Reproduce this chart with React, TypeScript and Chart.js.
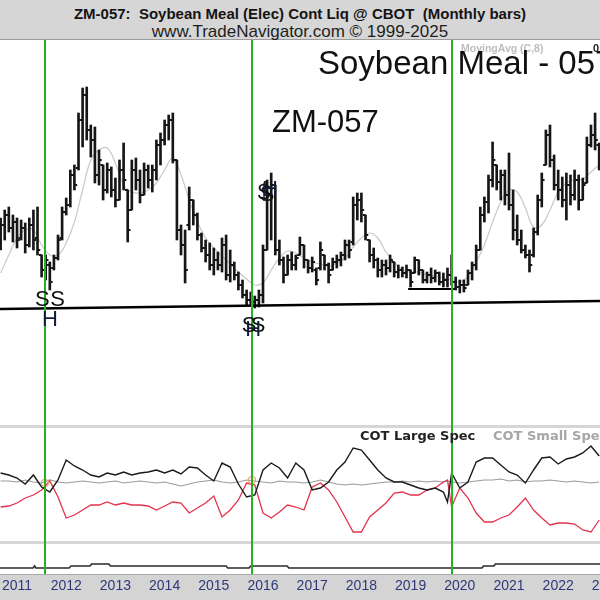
import React, { useEffect, useRef } from "react";
import { Chart, registerables } from "chart.js";

Chart.register(...registerables);

const FONT = '"Liberation Sans", Arial, sans-serif';
const GREEN = "#22b422";
const BAR = "#161616";

// Month index: 0 = January 2011; the first monthly bar is September 2010.
const firstBarMonth = -4;
const xMin = -4.15;
const xMax = 142.2;

const highs = [
  382, 390, 393, 385, 382, 380, 377, 382, 390, 393,
  345, 345, 338, 345, 365, 393, 402, 430, 435, 487,
  512, 513, 475, 473, 450, 435, 437, 433, 422, 440,
  457, 410, 440, 442, 430, 437, 435, 435, 460, 467,
  480, 485, 487, 440, 375, 370, 413, 400, 387, 367,
  360, 357, 352, 348, 362, 365, 350, 338, 328, 320,
  310, 308, 304, 310, 355, 420, 427, 415, 360, 343,
  345, 348, 345, 363, 355, 340, 343, 332, 358, 345,
  337, 342, 345, 348, 360, 360, 403, 407, 407, 385,
  360, 352, 342, 340, 340, 345, 338, 335, 333, 335,
  330, 343, 340, 330, 328, 332, 330, 328, 327, 332,
  345, 323, 320, 320, 330, 338, 355, 393, 403, 425,
  458, 435, 430, 430, 447, 410, 385, 370, 355, 350,
  372, 405, 427, 470, 475, 445, 430, 423, 427, 425,
  430, 425, 422, 463, 475, 487, 457,
];
const lows = [
  350, 360, 368, 358, 352, 360, 347, 353, 350, 345,
  323, 320, 310, 330, 340, 360, 385, 393, 410, 430,
  453, 460, 443, 417, 415, 400, 407, 403, 393, 400,
  410, 358, 390, 410, 397, 405, 412, 408, 420, 435,
  455, 460, 437, 360, 345, 317, 370, 375, 360, 348,
  338, 330, 325, 330, 328, 320, 318, 320, 310, 302,
  295, 295, 292, 293, 297, 350, 360, 345, 335, 317,
  325, 330, 330, 345, 332, 327, 328, 315, 330, 330,
  317, 330, 332, 334, 340, 342, 355, 380, 378, 360,
  338, 332, 323, 323, 325, 328, 323, 322, 323, 322,
  313, 327, 325, 317, 317, 317, 318, 315, 313, 313,
  315, 310, 307, 308, 315, 320, 330, 350, 378, 387,
  413, 410, 400, 395, 390, 360, 355, 347, 342, 328,
  343, 365, 393, 435, 433, 410, 400, 393, 380, 395,
  400, 390, 400, 417, 453, 450, 430,
];
const opens = [
  360, 375, 385, 372, 378, 362, 372, 355, 375, 362,
  345, 330, 335, 332, 342, 362, 388, 395, 425, 432,
  480, 505, 470, 460, 425, 435, 410, 430, 410, 400,
  430, 410, 390, 430, 420, 405, 430, 420, 430, 455,
  460, 475, 480, 440, 370, 355, 375, 400, 385, 365,
  352, 345, 335, 340, 335, 355, 325, 335, 325, 315,
  305, 300, 298, 300, 305, 350, 405, 415, 350, 340,
  325, 340, 335, 345, 355, 340, 332, 330, 332, 345,
  335, 330, 338, 340, 345, 355, 358, 395, 400, 385,
  360, 345, 340, 330, 335, 332, 338, 328, 330, 327,
  330, 327, 340, 330, 320, 325, 322, 327, 318, 320,
  325, 318, 313, 315, 315, 327, 335, 350, 385, 398,
  420, 435, 418, 425, 405, 395, 370, 360, 350, 345,
  345, 368, 400, 435, 465, 440, 415, 410, 400, 415,
  405, 420, 400, 417, 455, 465, 455,
];
const closes = [
  375, 385, 372, 378, 360, 372, 355, 375, 360, 350,
  330, 340, 318, 342, 360, 388, 395, 425, 415, 480,
  505, 470, 460, 425, 440, 410, 430, 410, 400, 430,
  420, 370, 430, 420, 405, 430, 420, 430, 455, 460,
  475, 480, 440, 370, 355, 330, 400, 385, 365, 352,
  345, 335, 340, 335, 355, 325, 335, 325, 315, 305,
  300, 298, 300, 305, 350, 405, 415, 350, 340, 325,
  340, 335, 342, 355, 340, 332, 338, 320, 350, 335,
  325, 338, 340, 345, 355, 350, 395, 400, 390, 365,
  345, 340, 330, 335, 332, 340, 328, 330, 327, 330,
  318, 340, 330, 320, 325, 322, 327, 318, 320, 325,
  318, 313, 315, 312, 327, 335, 350, 385, 398, 420,
  440, 418, 425, 405, 395, 370, 360, 350, 345, 335,
  368, 400, 420, 465, 440, 415, 410, 400, 415, 405,
  420, 400, 415, 455, 465, 460, 440,
];

// MovingAvg (C,8)
const maMonths = [
  -4, -2, 0, 2, 4, 6, 8, 10, 12, 14, 16, 18, 20, 22, 24, 26, 28, 30, 32, 34,
  36, 38, 40, 42, 44, 46, 48, 50, 52, 54, 56, 58, 60, 62, 64, 66, 68, 70, 72, 74,
  76, 78, 80, 82, 84, 86, 88, 90, 92, 94, 96, 98, 100, 102, 104, 106, 108, 110,
  112, 114, 116, 118, 120, 122, 124, 126, 128, 130, 132, 134, 136, 138, 140, 142,
];
const maValues = [
  327, 345, 362, 370, 370, 355, 345, 345, 357, 378, 410, 440, 450, 452, 437, 415, 408, 407, 410, 417,
  430, 442, 425, 400, 378, 362, 352, 344, 336, 328, 321, 315, 317, 330, 342, 349, 347, 342, 338, 336,
  334, 337, 342, 353, 362, 367, 362, 348, 338, 330, 328, 328, 325, 324, 322, 320, 318, 324,
  338, 355, 378, 398, 410, 408, 392, 373, 375, 390, 408, 417, 420, 421, 428, 435,
];

const supportMonths = [-4.15, 142.2];
const supportValues = [291, 299];
const baseMonths = [95.4, 106.8];
const baseValues = [311, 311];

const signalMonths = [6.8, 57.3, 106.1];

const markerTexts = ["S", "S", "H", "S", "S", "H", "$", "S", "H"];
const markerMonths = [6.15, 9.9, 8.05, 56.6, 58.8, 57.6, 60.2, 61.0, 61.7];
const markerPrices = [300, 300, 280, 274, 274, 270, 407, 405, 410];

const yearLabels = ["2011", "2012", "2013", "2014", "2015", "2016", "2017", "2018", "2019", "2020", "2021", "2022", "2023"];
const yearMonths = [0, 12, 24, 36, 48, 60, 72, 84, 96, 108, 120, 132, 144];

// COT net positions (thousand contracts)
const cotMonths = [
  -4, -2, 0, 2, 4, 6, 8, 10, 12, 14, 16, 18, 20, 22, 24, 26, 28, 30, 32, 34,
  36, 38, 40, 42, 44, 46, 48, 50, 52, 54, 56, 58, 60, 62, 64, 66, 68, 70, 72, 74,
  76, 78, 80, 82, 84, 86, 88, 90, 92, 94, 96, 98, 100, 102, 104, 105, 106, 108, 110,
  112, 114, 116, 118, 120, 122, 124, 126, 128, 130, 132, 134, 136, 138, 140, 142,
];
const cotLarge = [
  9, 7, 4, -2, 7, -5, -10, 2, 22, 16, 12, 7, 5, 9, 7, 10, 7, 9, 10, 12,
  9, 12, 8, 15, 14, 7, 1, 19, 15, -2, -15, -13, 12, 19, 14, 4, 19, 12, -8, -6,
  0, 12, 20, 34, 32, 22, 12, 4, 0, 0, -3, -6, -8, -6, -10, -20, 9, -6, 0,
  20, 24, 24, 17, 10, 7, -1, 12, 24, 25, 18, 23, 25, 29, 36, 26,
];
const cotCommercial = [
  -25, -24, -21, -16, -13, -8, 1, -15, -36, -33, -28, -23, -23, -20, -23, -21, -23, -23, -24, -28,
  -24, -20, -21, -31, -26, -21, -14, -35, -28, -18, -1, -3, -31, -36, -30, -23, -25, -28, -5, -1,
  -8, -20, -35, -50, -50, -35, -28, -21, -11, -10, -13, -13, -8, -6, 0, 2, -25, -6, -16,
  -31, -40, -40, -36, -33, -25, -16, -28, -36, -43, -41, -41, -42, -48, -50, -38,
];
const cotSmall = [
  1, 1, 0, 2, 0, -1, 2, 0, -1, 0, 1, 0, -1, 0, 1, -1, 0, 1, 0, -1,
  0, -2, -4, -2, 0, 1, 2, 0, -1, 0, 2, 1, 0, -1, 1, 0, 0, -1, 0, 2,
  0, -2, -3, -2, -3, -2, -1, 0, 0, 1, 0, 1, 0, 1, 0, 1, 0, -1, 0,
  1, 2, 2, 3, 1, 2, 0, 1, 1, 2, 1, 0, 1, 0, -1, 0,
];
const cotSignalMonths = [6.8, 57.3];
const cotSignalValues = [-1, 2];

// lower study line
const lowerMonths = [-4.15, 3.9, 4.3, 4.6, 12.7, 13.2, 17.8, 18.2, 22.4, 22.8, 51, 51.4, 56.6, 57, 65.9, 66.3, 113.4, 113.8, 116.3, 116.7, 142.2];
const lowerValues = [200, 200, 210, 200, 200, 210, 210, 220, 220, 210, 210, 200, 200, 210, 210, 200, 200, 210, 210, 220, 220];

const pts = (xs: number[], ys: number[]) => xs.map((x, i) => ({ x, y: ys[i] }));

function greenLines(fullHeight: boolean) {
  return {
    id: "greenLines",
    afterDatasetsDraw(chart: any) {
      const { ctx, chartArea, scales } = chart;
      ctx.save();
      ctx.strokeStyle = GREEN;
      ctx.lineWidth = 2;
      for (const m of signalMonths) {
        const px = Math.round(scales.x.getPixelForValue(m));
        ctx.beginPath();
        ctx.moveTo(px, 0);
        ctx.lineTo(px, fullHeight ? chart.height : chartArea.bottom);
        ctx.stroke();
      }
      ctx.restore();
    },
  };
}

const markersPlugin = {
  id: "markers",
  afterDatasetsDraw(chart: any) {
    const { ctx, scales } = chart;
    ctx.save();
    ctx.font = `22px ${FONT}`;
    ctx.textAlign = "center";
    ctx.textBaseline = "middle";
    markerTexts.forEach((t, i) => {
      ctx.fillStyle = t === "H" ? "#101c38" : "#111111";
      ctx.fillText(t, scales.x.getPixelForValue(markerMonths[i]), scales.y.getPixelForValue(markerPrices[i]));
    });
    ctx.restore();
  },
};

const bandPlugin = {
  id: "bands",
  beforeDraw(chart: any) {
    const { ctx, chartArea } = chart;
    ctx.save();
    ctx.fillStyle = "#d6d6d6";
    ctx.fillRect(0, 0, chart.width, chart.height);
    ctx.fillStyle = "#ffffff";
    ctx.fillRect(0, chartArea.top, chart.width, chartArea.bottom - chartArea.top);
    ctx.restore();
  },
};

const axisBandPlugin = {
  id: "axisBand",
  beforeDraw(chart: any) {
    const { ctx, chartArea } = chart;
    ctx.save();
    ctx.fillStyle = "#ffffff";
    ctx.fillRect(0, 0, chart.width, chartArea.bottom);
    ctx.fillStyle = "#d4d4d4";
    ctx.fillRect(0, chartArea.bottom, chart.width, chart.height - chartArea.bottom);
    ctx.fillStyle = "#a9a9a9";
    ctx.fillRect(0, chartArea.bottom, chart.width, 1);
    ctx.restore();
  },
};

const baseOptions = (yMin: number, yMax: number, padding: any) => ({
  responsive: false,
  animation: false as const,
  events: [],
  layout: { padding, autoPadding: false },
  plugins: { legend: { display: false }, tooltip: { enabled: false } },
  scales: {
    x: { type: "linear" as const, min: xMin, max: xMax, display: false, offset: false },
    y: { type: "linear" as const, min: yMin, max: yMax, display: false },
  },
});

export default function App() {
  const mainRef = useRef<HTMLCanvasElement>(null);
  const cotRef = useRef<HTMLCanvasElement>(null);
  const lowRef = useRef<HTMLCanvasElement>(null);

  useEffect(() => {
    const months = highs.map((_, i) => firstBarMonth + i);
    const main = new Chart(mainRef.current as HTMLCanvasElement, {
      type: "bar",
      data: {
        datasets: [
          {
            type: "bar",
            data: months.map((m, i) => ({ x: m, y: [lows[i], highs[i]] })) as any,
            backgroundColor: BAR,
            borderWidth: 0,
            barThickness: 2,
            grouped: false,
            order: 2,
          },
          {
            type: "line",
            data: months.map((m, i) => ({ x: m - 0.33, y: opens[i] })),
            showLine: false,
            pointStyle: "line",
            pointRadius: 1.4,
            pointBorderWidth: 2,
            pointBorderColor: BAR,
            order: 1,
          },
          {
            type: "line",
            data: months.map((m, i) => ({ x: m + 0.33, y: closes[i] })),
            showLine: false,
            pointStyle: "line",
            pointRadius: 1.4,
            pointBorderWidth: 2,
            pointBorderColor: BAR,
            order: 1,
          },
          {
            type: "line",
            data: pts(maMonths, maValues),
            borderColor: "#c8c8c8",
            borderWidth: 1.2,
            pointRadius: 0,
            tension: 0.4,
            order: 10,
          },
          {
            type: "line",
            data: pts(supportMonths, supportValues),
            borderColor: "#000000",
            borderWidth: 2.6,
            pointRadius: 0,
            order: 0,
          },
          {
            type: "line",
            data: pts(baseMonths, baseValues),
            borderColor: "#000000",
            borderWidth: 2.2,
            pointRadius: 0,
            order: 0,
          },
        ] as any,
      },
      options: baseOptions(175, 560, 0) as any,
      plugins: [greenLines(true), markersPlugin],
    });

    const cot = new Chart(cotRef.current as HTMLCanvasElement, {
      type: "line",
      data: {
        datasets: [
          { data: pts(cotMonths, cotSmall), borderColor: "#9b9b9b", borderWidth: 1.2, pointRadius: 0, order: 3 },
          { data: pts(cotMonths, cotCommercial), borderColor: "#e3324c", borderWidth: 1.3, pointRadius: 0, order: 2 },
          { data: pts(cotMonths, cotLarge), borderColor: "#1a1a1a", borderWidth: 1.4, pointRadius: 0, order: 1 },
          {
            data: pts(cotSignalMonths, cotSignalValues),
            showLine: false,
            pointRadius: 3.5,
            pointBorderWidth: 1.2,
            pointBorderColor: "#f0a070",
            pointBackgroundColor: "rgba(0,0,0,0)",
            order: 0,
          },
        ] as any,
      },
      options: baseOptions(-59, 54, { top: 3, bottom: 3 }) as any,
      plugins: [bandPlugin, greenLines(true)],
    });

    const lowOpts: any = baseOptions(170, 320, 0);
    lowOpts.scales.x = {
      type: "linear",
      min: xMin,
      max: xMax,
      offset: false,
      display: true,
      grid: { display: false, drawTicks: false },
      border: { display: false },
      afterBuildTicks: (s: any) => {
        s.ticks = yearMonths.map((v) => ({ value: v }));
      },
      afterFit: (s: any) => {
        s.height = 26;
        s.paddingLeft = 0;
        s.paddingRight = 0;
      },
      ticks: {
        autoSkip: false,
        maxRotation: 0,
        padding: 4,
        color: "#2e3878",
        font: { family: FONT, size: 14 },
        callback: (v: any) => yearLabels[yearMonths.indexOf(v)] ?? "",
      },
    };
    const low = new Chart(lowRef.current as HTMLCanvasElement, {
      type: "line",
      data: {
        datasets: [
          { data: pts(lowerMonths, lowerValues), borderColor: "#2a2a2a", borderWidth: 1.6, pointRadius: 0 },
        ] as any,
      },
      options: lowOpts,
      plugins: [axisBandPlugin, greenLines(false)],
    });

    return () => {
      main.destroy();
      cot.destroy();
      low.destroy();
    };
  }, []);

  const abs = (s: any) => ({ position: "absolute" as const, ...s });

  return (
    <div style={abs({ left: 0, top: 0, width: 600, height: 600, background: "#fff", overflow: "hidden", fontFamily: FONT })}>
      <div style={abs({ left: 0, top: 0, width: 600, height: 39, background: "#d6d6d6", borderBottom: "1px solid #9c9c9c" })}>
        <div style={abs({ left: 0, top: 6, width: 600, textAlign: "center", fontSize: 15, lineHeight: "15px", fontWeight: "bold", color: "#141414", whiteSpace: "pre" })}>
          {"ZM-057:  Soybean Meal (Elec) Cont Liq @ CBOT  (Monthly bars)"}
        </div>
        <div style={abs({ left: 0, top: 23, width: 600, textAlign: "center", fontSize: 17, lineHeight: "17px", color: "#1e1e1e", whiteSpace: "pre" })}>
          {"www.TradeNavigator.com © 1999-2025"}
        </div>
      </div>
      <div style={abs({ left: 0, top: 40, width: 600, height: 385 })}>
        <canvas ref={mainRef} width={600} height={385} style={{ display: "block" }} />
      </div>
      <div style={abs({ left: 0, top: 425, width: 600, height: 119 })}>
        <canvas ref={cotRef} width={600} height={119} style={{ display: "block" }} />
      </div>
      <div style={abs({ left: 0, top: 544, width: 600, height: 56 })}>
        <canvas ref={lowRef} width={600} height={56} style={{ display: "block" }} />
      </div>
      <div style={abs({ left: 461, top: 42, fontSize: 10.5, lineHeight: "12px", fontWeight: "bold", color: "#bdbdbd", whiteSpace: "nowrap" })}>
        MovingAvg (C,8)
      </div>
      <div style={abs({ left: 593, top: 42, fontSize: 11, lineHeight: "12px", fontWeight: "bold", color: "#222", whiteSpace: "nowrap" })}>
        0
      </div>
      <div style={abs({ left: 318, top: 46, fontSize: 33, lineHeight: "33px", color: "#111", whiteSpace: "nowrap" })}>
        Soybean Meal - 057
      </div>
      <div style={abs({ left: 272, top: 106, fontSize: 31, lineHeight: "31px", color: "#111", whiteSpace: "nowrap" })}>
        ZM-057
      </div>
      <div style={abs({ left: 360, top: 429, fontFamily: '"DejaVu Sans", Verdana, sans-serif', fontSize: 13, lineHeight: "13px", fontWeight: "bold", color: "#222", whiteSpace: "nowrap" })}>
        COT Large Spec
      </div>
      <div style={abs({ left: 493, top: 429, fontFamily: '"DejaVu Sans", Verdana, sans-serif', fontSize: 13, lineHeight: "13px", fontWeight: "bold", color: "#a6a6a6", whiteSpace: "nowrap" })}>
        COT Small Spec
      </div>
    </div>
  );
}
